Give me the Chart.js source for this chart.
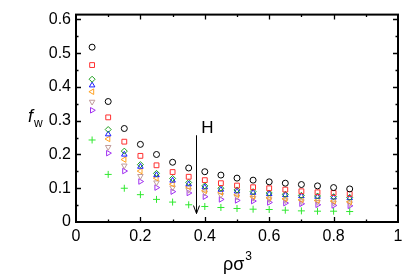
<!DOCTYPE html>
<html>
<head>
<meta charset="utf-8">
<script src="https://cdn.jsdelivr.net/npm/chart.js@4"></script>
<style>
  html, body { margin: 0; padding: 0; background: #fff; }
  #wrap { width: 415px; height: 280px; }
</style>
</head>
<body>
<div id="wrap"><canvas id="myChart" width="415" height="280"></canvas></div>
<script>
// x positions (density rho sigma^3)
const densities = [0.05, 0.1, 0.15, 0.2, 0.25, 0.3, 0.35, 0.4, 0.45, 0.5, 0.55, 0.6, 0.65, 0.7, 0.75, 0.8, 0.85];

// f_w values per series
const circleVals = [0.518, 0.357, 0.277, 0.230, 0.200, 0.177, 0.160, 0.149, 0.139, 0.130, 0.124, 0.119, 0.115, 0.111, 0.107, 0.102, 0.098];
const squareVals = [0.465, 0.310, 0.238, 0.196, 0.168, 0.148, 0.134, 0.124, 0.115, 0.108, 0.103, 0.100, 0.096, 0.091, 0.088, 0.086, 0.083];
const diamondVals = [0.423, 0.274, 0.210, 0.170, 0.144, 0.129, 0.117, 0.107, 0.100, 0.095, 0.090, 0.086, 0.082, 0.079, 0.077, 0.075, 0.073];
const upTriVals = [0.405, 0.260, 0.200, 0.164, 0.139, 0.123, 0.112, 0.103, 0.096, 0.091, 0.087, 0.083, 0.080, 0.077, 0.075, 0.073, 0.071];
const leftTriVals = [0.386, 0.246, 0.185, 0.151, 0.130, 0.112, 0.104, 0.093, 0.088, 0.081, 0.076, 0.072, 0.069, 0.066, 0.064, 0.062, 0.060];
const downTriVals = [0.356, 0.222, 0.167, 0.136, 0.117, 0.102, 0.095, 0.087, 0.080, 0.075, 0.071, 0.067, 0.064, 0.061, 0.059, 0.057, 0.055];
const rightTriVals = [0.331, 0.204, 0.151, 0.120, 0.102, 0.090, 0.086, 0.075, 0.067, 0.064, 0.062, 0.058, 0.056, 0.054, 0.051, 0.049, 0.048];
const plusVals = [0.243, 0.141, 0.100, 0.081, 0.067, 0.059, 0.051, 0.046, 0.043, 0.040, 0.038, 0.037, 0.035, 0.033, 0.032, 0.032, 0.031];

// tick values and labels
const xTicks = [0, 0.2, 0.4, 0.6, 0.8, 1];
const xTickLabels = ["0", "0.2", "0.4", "0.6", "0.8", "1"];
const yTicks = [0, 0.1, 0.2, 0.3, 0.4, 0.5, 0.6];
const yTickLabels = ["0", "0.1", "0.2", "0.3", "0.4", "0.5", "0.6"];

// the "H" arrow annotation
const arrowX = 0.372;
const arrowTop = 0.257;
const arrowTip = 0.025;
const arrowLabel = "H";

const FONT = "'Liberation Sans', Arial, Helvetica, sans-serif";

// build one scatter dataset
const makeSeries = (label, values, style, color, rotation, radius) => ({
  label: label,
  data: densities.map((x, i) => ({ x: x, y: values[i] })),
  pointStyle: style,
  rotation: rotation,
  radius: radius,
  borderColor: color,
  backgroundColor: "rgba(0,0,0,0)",
  borderWidth: 1,
  showLine: false,
});

// frame, inner ticks, axis titles and the arrow
const decorPlugin = {
  id: "decor",
  afterDraw(chart) {
    const ctx = chart.ctx;
    const { left, right, top, bottom } = chart.chartArea;
    const xs = chart.scales.x;
    const ys = chart.scales.y;
    ctx.save();
    ctx.strokeStyle = "#000";
    ctx.lineWidth = 2;
    ctx.strokeRect(left, top, right - left, bottom - top);

    ctx.lineWidth = 1.3;
    ctx.beginPath();
    // x ticks every 0.1, longer at 0.2 steps
    for (let i = 1; i < 10; i++) {
      const px = Math.round(xs.getPixelForValue(i / 10)) + 0.5;
      const len = i % 2 === 0 ? 5 : 2.5;
      ctx.moveTo(px, bottom); ctx.lineTo(px, bottom - len);
      ctx.moveTo(px, top); ctx.lineTo(px, top + len);
    }
    // y ticks every 0.05, longer at 0.1 steps
    for (let i = 1; i <= 12; i++) {
      const py = Math.round(ys.getPixelForValue(i * 0.05)) + 0.5;
      const len = i % 2 === 0 ? 5 : 2.5;
      ctx.moveTo(left, py); ctx.lineTo(left + len, py);
      ctx.moveTo(right, py); ctx.lineTo(right - len, py);
    }
    ctx.stroke();

    // arrow
    const ax = Math.round(xs.getPixelForValue(arrowX)) + 0.5;
    const ay0 = ys.getPixelForValue(arrowTop);
    const ay1 = ys.getPixelForValue(arrowTip);
    ctx.lineWidth = 1;
    ctx.beginPath();
    ctx.moveTo(ax, ay0); ctx.lineTo(ax, ay1);
    ctx.moveTo(ax - 3, ay1 - 8); ctx.lineTo(ax, ay1); ctx.lineTo(ax + 3, ay1 - 8);
    ctx.stroke();

    ctx.fillStyle = "#000";
    ctx.textAlign = "center";
    ctx.textBaseline = "alphabetic";
    ctx.font = "17px " + FONT;
    ctx.fillText(arrowLabel, ax + 11, ay0 - 2);

    // x axis title: rho sigma^3
    const cx = (left + right) / 2;
    ctx.font = "18px " + FONT;
    ctx.textAlign = "left";
    const base = "ρσ";
    const w = ctx.measureText(base).width;
    ctx.font = "12px " + FONT;
    const w3 = ctx.measureText("3").width;
    const sx = cx - (w + w3) / 2;
    ctx.font = "18px " + FONT;
    ctx.fillText(base, sx, 270);
    ctx.font = "12px " + FONT;
    ctx.fillText("3", sx + w + 1, 260);

    // y axis title: f_w
    ctx.font = "italic 18px " + FONT;
    ctx.fillText("f", 28, 122);
    ctx.font = "12px " + FONT;
    ctx.fillText("w", 34, 127);
    ctx.restore();
  },
};

new Chart(document.querySelector("#myChart"), {
  type: "scatter",
  data: {
    datasets: [
      makeSeries("circle", circleVals, "circle", "#000000", 0, 3),
      makeSeries("square", squareVals, "rect", "#ff3030", 0, 3.4),
      makeSeries("diamond", diamondVals, "rectRot", "#1e9e1e", 0, 3),
      makeSeries("up", upTriVals, "triangle", "#1a1aff", 0, 3.2),
      makeSeries("left", leftTriVals, "triangle", "#ffa020", -90, 3.2),
      makeSeries("down", downTriVals, "triangle", "#c09a9a", 180, 3.2),
      makeSeries("right", rightTriVals, "triangle", "#a030f0", 90, 3.2),
      makeSeries("plus", plusVals, "cross", "#30e830", 0, 3.5),
    ],
  },
  options: {
    responsive: false,
    animation: false,
    layout: { padding: { top: 10, right: 17, left: 0, bottom: 0 } },
    plugins: {
      legend: { display: false },
      tooltip: { enabled: false },
    },
    scales: {
      x: {
        type: "linear",
        min: 0,
        max: 1,
        grid: { display: false, drawTicks: false },
        border: { display: false },
        afterBuildTicks: (scale) => { scale.ticks = xTicks.map((v) => ({ value: v })); },
        afterFit: (scale) => { scale.height = 58; },
        ticks: {
          padding: 5,
          color: "#000",
          maxRotation: 0,
          font: { family: FONT, size: 16 },
          callback: (value, index) => xTickLabels[index],
        },
      },
      y: {
        type: "linear",
        min: 0,
        max: 0.6145,
        grid: { display: false, drawTicks: false },
        border: { display: false },
        afterBuildTicks: (scale) => { scale.ticks = yTicks.map((v) => ({ value: v })); },
        afterFit: (scale) => { scale.width = 76; },
        ticks: {
          padding: 5,
          color: "#000",
          font: { family: FONT, size: 16 },
          callback: (value, index) => yTickLabels[index],
        },
      },
    },
  },
  plugins: [decorPlugin],
});
</script>
</body>
</html>
